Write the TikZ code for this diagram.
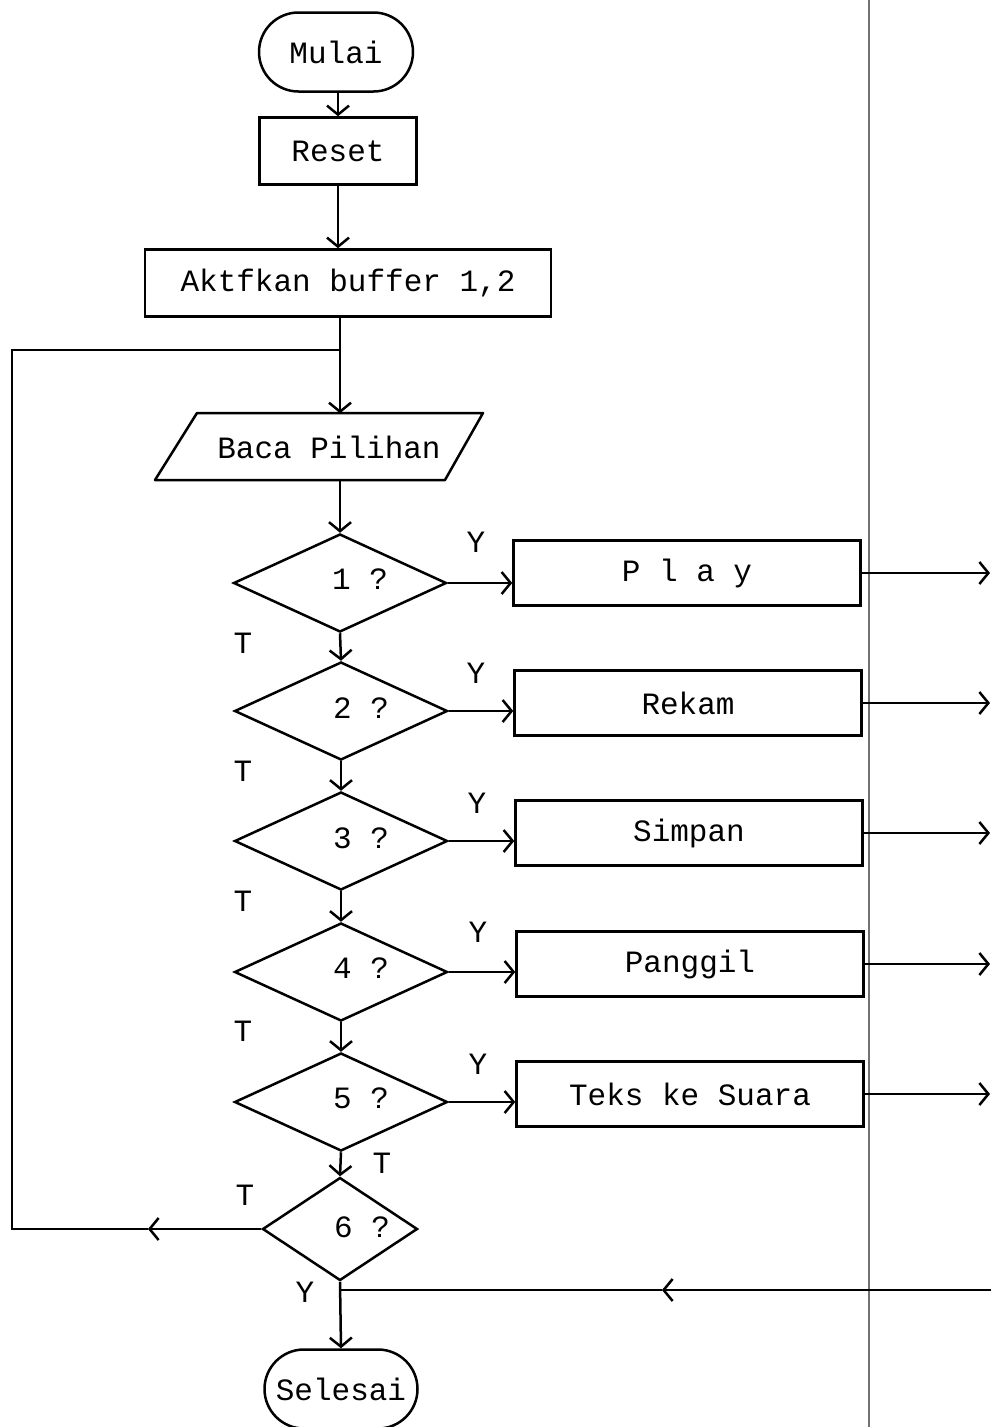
\documentclass[tikz,border=0pt]{standalone}
\usepackage{fontspec}
\setmonofont{Liberation Mono}
\usetikzlibrary{shapes.geometric,shapes.misc,arrows.meta}
\begin{document}
\begin{tikzpicture}[x=1pt,y=-1pt,
  every node/.style={font=\fontsize{31}{36}\selectfont\ttfamily},
  ln/.style={line width=2.5pt},
  arr/.style={ln,-{Straight Barb[length=9pt,width=22pt,line width=2.5pt]}},
  term/.style={draw,ln,rounded rectangle,minimum width=154pt,minimum height=79pt,inner sep=0pt},
  proc/.style={draw,ln,rectangle,minimum height=67pt,inner sep=0pt},
  dec/.style={draw,ln,diamond,minimum width=213pt,minimum height=98pt,inner sep=0pt},
  act/.style={draw,ln,rectangle,minimum width=347pt,minimum height=65pt,inner sep=0pt},
  lbl/.style={inner sep=0pt}
]
\useasboundingbox (0,0) rectangle (991,1427);
% scan border line
\draw[line width=2.5pt,black!55] (869,0) -- (869,1427);

\node[term] (mulai) at (336,52) {Mulai};
\node[proc,minimum width=157pt] (reset) at (338,151) {Reset};
\node[proc,minimum width=406pt] (aktif) at (348,283) {Aktfkan buffer 1,2};
\node[lbl,minimum height=67pt] (baca) at (329,447) {Baca Pilihan};
\draw[ln,line join=round] (197,413) -- (483,413) -- (445,480) -- (155,480) -- cycle;

\node[dec] (d1) at (340,583) {};
\node[lbl] (q1) at (360,579) {1 ?};
\node[dec] (d2) at (341,711) {};
\node[lbl] (q2) at (361,708) {2 ?};
\node[dec] (d3) at (341,841) {};
\node[lbl] (q3) at (361,838) {3 ?};
\node[dec] (d4) at (341,972) {};
\node[lbl] (q4) at (361,968) {4 ?};
\node[dec] (d5) at (341,1102) {};
\node[lbl] (q5) at (361,1098) {5 ?};
\node[dec,minimum width=155pt,minimum height=103pt] (d6) at (340,1229) {};
\node[lbl] (q6) at (362,1227) {6 ?};

\node[act] (play) at (687,573) {P l a y};
\node[act] (rekam) at (688,703) {Rekam};
\node[act] (simpan) at (689,833) {Simpan};
\node[act] (panggil) at (690,964) {Panggil};
\node[act] (teks) at (690,1094) {Teks ke Suara};

\node[term,minimum width=153pt] (selesai) at (341,1389) {Selesai};

% labels
\node[lbl] (y1) at (476,542) {Y};
\node[lbl] (t1) at (243,643) {T};
\node[lbl] (y2) at (476,673) {Y};
\node[lbl] (t2) at (243,771) {T};
\node[lbl] (y3) at (477,803) {Y};
\node[lbl] (t3) at (243,901) {T};
\node[lbl] (y4) at (478,932) {Y};
\node[lbl] (t4) at (243,1031) {T};
\node[lbl] (y5) at (478,1064) {Y};
\node[lbl] (t5) at (382,1163) {T};
\node[lbl] (t6) at (245,1195) {T};
\node[lbl] (y6) at (305,1292) {Y};

% coordinates
\coordinate (redge) at (990,0);
\coordinate (rin) at (991,1290);
\coordinate (rmid) at (662,1290);
\coordinate (lmid) at (148,1229);
\coordinate (lc1) at (12,1229);
\coordinate (lc2) at (12,350);

% main flow
\draw[arr] (reset.north |- mulai.south) -- (reset.north);
\draw[arr] (reset.south) -- (reset.south |- aktif.north);
\draw[arr] (d1.north |- aktif.south) -- (d1.north |- baca.north);
\draw[arr] (d1.north |- baca.south) -- (d1.north);
\draw[arr] (d1.south) -- (d2.north);
\draw[arr] (d2.south) -- (d3.north);
\draw[arr] (d3.south) -- (d4.north);
\draw[arr] (d4.south) -- (d5.north);
\draw[arr] (d5.south) -- (d6.north);
\draw[arr] (d6.south) -- (selesai.north);

% yes branches
\draw[arr] (d1.east) -- (d1.east -| play.west);
\draw[arr] (d2.east) -- (d2.east -| rekam.west);
\draw[arr] (d3.east) -- (d3.east -| simpan.west);
\draw[arr] (d4.east) -- (d4.east -| panggil.west);
\draw[arr] (d5.east) -- (d5.east -| teks.west);

\draw[arr] (play.east) -- (play.east -| redge);
\draw[arr] (rekam.east) -- (rekam.east -| redge);
\draw[arr] (simpan.east) -- (simpan.east -| redge);
\draw[arr] (panggil.east) -- (panggil.east -| redge);
\draw[arr] (teks.east) -- (teks.east -| redge);

% return from right
\draw[arr] (rin) -- (rmid);
\draw[ln] (rmid) -- (d6.south |- rmid);

% loop back
\draw[arr] (d6.west) -- (lmid);
\draw[ln] (lmid) -- (lc1) -- (lc2) -- (d1.north |- lc2);
\end{tikzpicture}
\end{document}
